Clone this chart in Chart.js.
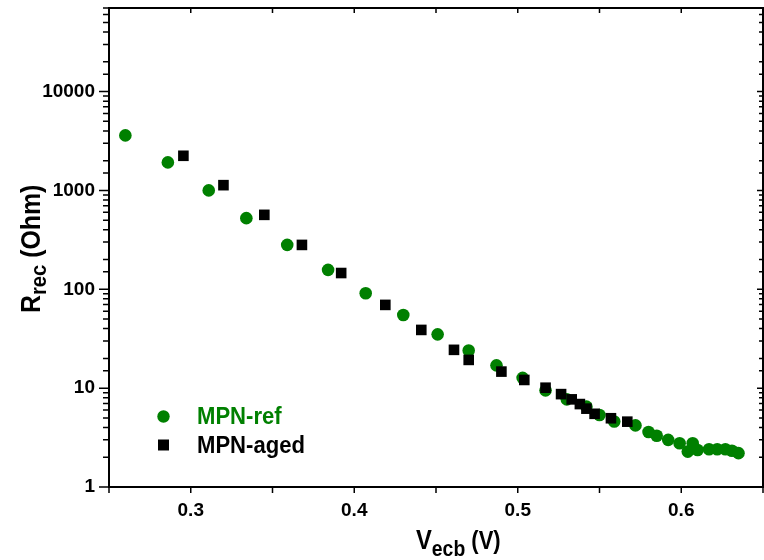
<!DOCTYPE html>
<html>
<head>
<meta charset="utf-8">
<title>R_rec vs V_ecb</title>
<script src="https://cdn.jsdelivr.net/npm/chart.js@4/dist/chart.umd.min.js"></script>
<style>
  html, body { margin: 0; padding: 0; background: #fff; }
  #wrap { width: 764px; height: 560px; }
</style>
</head>
<body>
<div id="wrap"><canvas id="c" width="764" height="560"></canvas></div>
<script>
// Recombination resistance versus equivalent conduction-band voltage
const refV  = [0.260, 0.286, 0.311, 0.334, 0.359, 0.384, 0.407, 0.430, 0.451, 0.470,
               0.487, 0.503, 0.517, 0.530, 0.542, 0.550, 0.559, 0.572, 0.580, 0.585,
               0.592, 0.599, 0.604, 0.607, 0.610, 0.617, 0.622, 0.627, 0.631, 0.635];
const refR  = [3600, 1920, 1000, 524, 281, 157, 91, 55, 35, 24,
               17, 12.7, 9.5, 7.7, 6.5, 5.35, 4.6, 4.2, 3.6, 3.3,
               3.0, 2.77, 2.28, 2.77, 2.37, 2.41, 2.41, 2.41, 2.33, 2.2];

const agedV = [0.2955, 0.320, 0.345, 0.368, 0.392, 0.419, 0.441, 0.461, 0.470, 0.490,
               0.504, 0.517, 0.5265, 0.533, 0.538, 0.542, 0.547, 0.557, 0.567];
const agedR = [2240, 1130, 566, 281, 146, 69.5, 38.8, 24.4, 19.3, 14.7,
               12.1, 10.1, 8.7, 7.7, 6.9, 6.2, 5.5, 4.96, 4.58];

const seriesNames = ['MPN-ref', 'MPN-aged'];
const xTickLabels = ['0.3', '0.4', '0.5', '0.6'];
const yTickLabels = ['1', '10', '100', '1000', '10000'];

const GREEN = '#008000';
const FONT = "'Liberation Sans', Arial, Helvetica, sans-serif";

const toPoints = (xs, ys) => xs.map((x, i) => ({ x: x, y: ys[i] }));
const isDecade = v => Math.abs(Math.log10(v) - Math.round(Math.log10(v))) < 1e-9;

// draws a run of text pieces (with subscripts) along the current direction
function drawRich(ctx, parts, squeeze) {
  let x = 0;
  ctx.scale(squeeze, 1);
  parts.forEach(p => {
    ctx.font = 'bold ' + p.size + 'px ' + FONT;
    ctx.fillText(p.text, x, p.dy || 0);
    x += ctx.measureText(p.text).width;
  });
}

const framePlugin = {
  id: 'frame',
  afterDraw(chart) {
    const { ctx, chartArea: a, scales } = chart;
    const xs = scales.x, ys = scales.y;
    ctx.save();
    ctx.strokeStyle = '#000';
    // top and right edges of the box
    ctx.lineWidth = 2;
    ctx.beginPath();
    ctx.moveTo(a.left, a.top);
    ctx.lineTo(a.right, a.top);
    ctx.lineTo(a.right, a.bottom);
    ctx.stroke();
    // tick marks: outward on left/bottom, inward on right/top
    ctx.lineWidth = 1.5;
    ctx.beginPath();
    ys.ticks.forEach(t => {
      const p = ys.getPixelForValue(t.value);
      const major = isDecade(t.value);
      ctx.moveTo(a.left - (major ? 10 : 6), p); ctx.lineTo(a.left, p);
      ctx.moveTo(a.right, p); ctx.lineTo(a.right - (major ? 6 : 4), p);
    });
    xs.ticks.forEach(t => {
      const p = xs.getPixelForValue(t.value);
      ctx.moveTo(p, a.bottom); ctx.lineTo(p, a.bottom + 6);
      ctx.moveTo(p, a.top); ctx.lineTo(p, a.top + 5);
    });
    ctx.stroke();

    ctx.fillStyle = '#000';
    ctx.textAlign = 'left';
    ctx.textBaseline = 'alphabetic';

    // y-axis title, rotated
    ctx.save();
    ctx.translate(40, 313);
    ctx.rotate(-Math.PI / 2);
    drawRich(ctx, [
      { text: 'R', size: 27 },
      { text: 'rec', size: 22, dy: 6 },
      { text: ' (Ohm)', size: 27 }
    ], 0.92);
    ctx.restore();

    // x-axis title
    ctx.save();
    ctx.translate(416, 549);
    drawRich(ctx, [
      { text: 'V', size: 27 },
      { text: 'ecb', size: 22, dy: 7 },
      { text: ' (V)', size: 25 }
    ], 0.88);
    ctx.restore();

    // legend
    const ds = chart.data.datasets;
    const rows = [
      { d: ds[1], cy: 416.5, base: 423.5 },
      { d: ds[0], cy: 445, base: 452.5 }
    ];
    rows.forEach(r => {
      ctx.fillStyle = r.d.backgroundColor;
      ctx.beginPath();
      if (r.d.pointStyle === 'rect') {
        ctx.rect(163.5 - 5.5, r.cy - 5.5, 11, 11);
      } else {
        ctx.arc(163.5, r.cy, 6.2, 0, Math.PI * 2);
      }
      ctx.fill();
      ctx.save();
      ctx.translate(197, r.base);
      drawRich(ctx, [{ text: r.d.label, size: 24 }], 0.92);
      ctx.restore();
    });
    ctx.restore();
  }
};

new Chart(document.getElementById('c'), {
  type: 'scatter',
  data: {
    datasets: [
      {
        label: seriesNames[1],
        data: toPoints(agedV, agedR),
        pointStyle: 'rect',
        radius: 7.5,
        backgroundColor: '#000',
        borderWidth: 0,
        order: 0
      },
      {
        label: seriesNames[0],
        data: toPoints(refV, refR),
        pointStyle: 'circle',
        radius: 6.3,
        backgroundColor: GREEN,
        borderWidth: 0,
        order: 1
      }
    ]
  },
  options: {
    responsive: false,
    animation: false,
    events: [],
    layout: { autoPadding: false, padding: { top: 8, right: 1, left: 0, bottom: 0 } },
    plugins: { legend: { display: false }, tooltip: { enabled: false } },
    scales: {
      x: {
        type: 'linear',
        min: 0.25,
        max: 0.65,
        afterFit: s => { s.height = 73; s.paddingLeft = 0; s.paddingRight = 0; },
        grid: { display: false, drawTicks: false },
        border: { display: true, width: 2, color: '#000' },
        ticks: {
          stepSize: 0.05,
          autoSkip: false,
          maxRotation: 0,
          padding: 12,
          color: '#000',
          font: { family: FONT, size: 19, weight: 'bold' },
          callback: v => {
            const s = (Math.round(v * 100) / 100).toFixed(2);
            const lbl = s.endsWith('0') ? s.slice(0, -1) : null;
            return xTickLabels.includes(lbl) ? lbl : '';
          }
        }
      },
      y: {
        type: 'logarithmic',
        min: 1,
        max: 70000,
        afterFit: s => { s.width = 109; s.paddingTop = 0; s.paddingBottom = 0; },
        grid: { display: false, drawTicks: false },
        border: { display: true, width: 2, color: '#000' },
        ticks: {
          autoSkip: false,
          padding: 14,
          color: '#000',
          font: { family: FONT, size: 19, weight: 'bold' },
          callback: v => {
            const s = String(Math.round(v));
            return isDecade(v) && yTickLabels.includes(s) ? s : '';
          }
        }
      }
    }
  },
  plugins: [framePlugin]
});
</script>
</body>
</html>
